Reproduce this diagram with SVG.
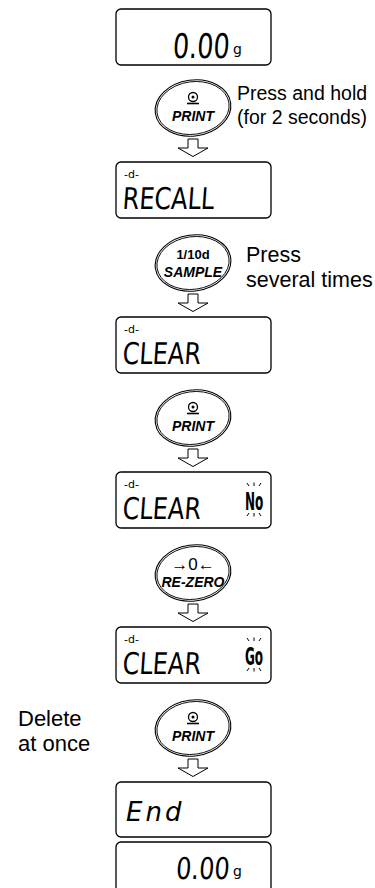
<svg xmlns="http://www.w3.org/2000/svg" width="375" height="888" viewBox="0 0 375 888">
<style>
.disp{fill:#fff;stroke:#000;stroke-width:1.3}
.lcd{font-family:"DejaVu Sans","Liberation Sans",sans-serif;fill:#000}
.eo{fill:#fff;stroke:#000;stroke-width:1.1}
.ei{fill:none;stroke:#000;stroke-width:0.9}
.bl{font-family:"Liberation Sans",Arial,sans-serif;font-weight:bold;font-style:italic;font-size:14px;text-anchor:middle;fill:#000}
.bn{font-family:"Liberation Sans",Arial,sans-serif;font-weight:bold;font-size:13px;text-anchor:middle;fill:#000}
.note{font-family:"Liberation Sans",Arial,sans-serif;fill:#000}
.arr{fill:#fff;stroke:#000;stroke-width:1}
.blink{stroke:#000;stroke-width:1;fill:none}
.ico{fill:none;stroke:#000;stroke-width:1.3}
</style>
<defs>
<path id="arrow" class="arr" d="M-5,0 H5 V9 H15 L0,17.5 L-15,9 H-5 Z"/>
<g id="ell">
<ellipse rx="38" ry="28" class="eo" transform="rotate(-8)"/>
<ellipse rx="36.3" ry="26.3" class="ei" transform="rotate(-8)"/>
</g>
<g id="pico">
<circle cx="0" cy="-11" r="4.5" class="ico"/>
<circle cx="0" cy="-11" r="1.5" fill="#000"/>
<line x1="-6" y1="-4.5" x2="6" y2="-4.5" stroke="#000" stroke-width="1.6"/>
</g>
<g id="bk">
<path class="blink" d="M-7,0 L-5,3 M0,-0.5 V3 M7,0 L5,3 M-5,30 L-7,33 M0,30 V33.5 M5,30 L7,33"/>
</g>
</defs>

<g id="connectors">
<use href="#arrow" x="193" y="139"/>
<use href="#arrow" x="193" y="294"/>
<use href="#arrow" x="193" y="449"/>
<use href="#arrow" x="193" y="604"/>
<use href="#arrow" x="193" y="759"/>
</g>

<g id="display-1">
<rect class="disp" x="116" y="9" width="155" height="56" rx="5"/>
<text class="lcd" font-size="34" transform="translate(229,58) scale(0.75,1) skewX(-5)" text-anchor="end">0.00</text>
<text class="lcd" font-size="14" x="233" y="54">g</text>
</g>

<g id="btn-print-1">
<use href="#ell" x="193" y="108"/>
<use href="#pico" x="193" y="108"/>
<text class="bl" x="193" y="121">PRINT</text>
</g>
<g id="note-1">
<text class="note" font-size="19.5" x="237" y="100">Press and hold</text>
<text class="note" font-size="19.5" x="237" y="124">(for 2 seconds)</text>
</g>

<g id="display-2">
<rect class="disp" x="116" y="162" width="155" height="56" rx="5"/>
<text class="lcd" font-size="11" x="124" y="178">-d-</text>
<text class="lcd" font-size="30" transform="translate(122,209) scale(0.8,1) skewX(-5)">RECALL</text>
</g>

<g id="btn-sample">
<use href="#ell" x="193" y="263"/>
<text class="bn" x="193" y="259">1/10d</text>
<text class="bl" x="193" y="277">SAMPLE</text>
</g>
<g id="note-2">
<text class="note" font-size="21.5" x="246" y="262">Press</text>
<text class="note" font-size="21.5" x="246" y="287">several times</text>
</g>

<g id="display-3">
<rect class="disp" x="116" y="317" width="155" height="56" rx="5"/>
<text class="lcd" font-size="11" x="124" y="333">-d-</text>
<text class="lcd" font-size="30" transform="translate(122,364) scale(0.8,1) skewX(-5)">CLEAR</text>
</g>

<g id="btn-print-2">
<use href="#ell" x="193" y="418"/>
<use href="#pico" x="193" y="418"/>
<text class="bl" x="193" y="431">PRINT</text>
</g>

<g id="display-4">
<rect class="disp" x="116" y="472" width="155" height="56" rx="5"/>
<text class="lcd" font-size="11" x="124" y="488">-d-</text>
<text class="lcd" font-size="30" transform="translate(122,519) scale(0.8,1) skewX(-5)">CLEAR</text>
<text class="lcd" font-size="24" font-weight="bold" transform="translate(245,510) scale(0.5,1)">No</text>
<use href="#bk" x="254" y="483"/>
</g>

<g id="btn-rezero">
<use href="#ell" x="193" y="573"/>
<text class="bn" style="font-size:17px;font-weight:normal" x="193" y="570">→0←</text>
<text class="bl" x="193" y="587">RE-ZERO</text>
</g>

<g id="display-5">
<rect class="disp" x="116" y="627" width="155" height="56" rx="5"/>
<text class="lcd" font-size="11" x="124" y="643">-d-</text>
<text class="lcd" font-size="30" transform="translate(122,674) scale(0.8,1) skewX(-5)">CLEAR</text>
<text class="lcd" font-size="24" font-weight="bold" transform="translate(245,665) scale(0.5,1)">Go</text>
<use href="#bk" x="254" y="638"/>
</g>

<g id="note-3">
<text class="note" font-size="22" x="18" y="726">Delete</text>
<text class="note" font-size="22" x="18" y="751">at once</text>
</g>
<g id="btn-print-3">
<use href="#ell" x="193" y="728"/>
<use href="#pico" x="193" y="728"/>
<text class="bl" x="193" y="741">PRINT</text>
</g>

<g id="display-6">
<rect class="disp" x="116" y="782" width="155" height="55" rx="5"/>
<text class="lcd" font-size="26" font-weight="200" font-style="italic" letter-spacing="3" x="126" y="821">End</text>
</g>

<g id="display-7">
<rect class="disp" x="116" y="842" width="155" height="60" rx="5"/>
<text class="lcd" font-size="30" transform="translate(229,879) scale(0.8,1) skewX(-5)" text-anchor="end">0.00</text>
<text class="lcd" font-size="14" x="233" y="876">g</text>
</g>
</svg>
